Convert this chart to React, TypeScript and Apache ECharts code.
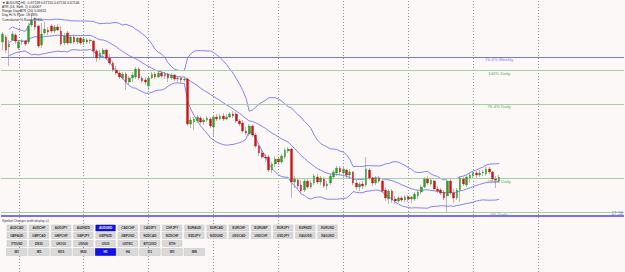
import React, { useEffect, useRef } from "react";
import * as echarts from "echarts";

const symbolName = "AUDUSD";
const periodName = "H1";

const opens = [
  0.67416, 0.67426, 0.67406, 0.6742, 0.6743, 0.67404, 0.67416, 0.67418, 0.67416, 0.6745,
  0.67458, 0.67448, 0.6741, 0.67434, 0.6744, 0.67448, 0.67438, 0.67446, 0.67438, 0.67414,
  0.67434, 0.67414, 0.67426, 0.67416, 0.67424, 0.67416, 0.6742, 0.67418, 0.67418, 0.67398,
  0.67386, 0.67392, 0.674, 0.67384, 0.67374, 0.6736, 0.67354, 0.67344, 0.67352, 0.67336,
  0.67344, 0.67346, 0.67362, 0.67344, 0.6734, 0.67328, 0.67344, 0.67352, 0.67346, 0.67354,
  0.67348, 0.67352, 0.67344, 0.6735, 0.67342, 0.67344, 0.6734, 0.67342, 0.67252, 0.67256,
  0.67258, 0.67264, 0.67256, 0.6726, 0.67262, 0.67246, 0.67266, 0.67262, 0.67268, 0.67262,
  0.67266, 0.67272, 0.67272, 0.67258, 0.67254, 0.67238, 0.67232, 0.67248, 0.6723, 0.67208,
  0.67194, 0.67186, 0.67186, 0.6716, 0.67172, 0.67182, 0.67176, 0.67186, 0.67198, 0.67202,
  0.67136, 0.6714, 0.6713, 0.6712, 0.67138, 0.67126, 0.67134, 0.67146, 0.67136, 0.67142,
  0.67128, 0.67134, 0.67146, 0.67154, 0.67164, 0.67154, 0.6716, 0.6715, 0.67156, 0.67134,
  0.67126, 0.67132, 0.6713, 0.6716, 0.67144, 0.67134, 0.67144, 0.67138, 0.6712, 0.67102,
  0.67118, 0.67102, 0.67098, 0.67104, 0.671, 0.67106, 0.67102, 0.67102, 0.67108, 0.67116,
  0.67126, 0.67142, 0.67132, 0.67138, 0.67122, 0.6712, 0.67116, 0.67108, 0.67138, 0.67114,
  0.67104, 0.6712, 0.67142, 0.6713, 0.67144, 0.67148, 0.67154, 0.6715, 0.67154, 0.67152,
  0.67162, 0.67156, 0.67142, 0.67138,
];
const closes = [
  0.67432, 0.674, 0.67412, 0.67432, 0.67418, 0.67416, 0.67418, 0.67412, 0.67448, 0.6746,
  0.67446, 0.67408, 0.67432, 0.67442, 0.67436, 0.67438, 0.67446, 0.6744, 0.67412, 0.67428,
  0.67414, 0.67426, 0.67416, 0.67424, 0.67414, 0.67422, 0.67416, 0.6742, 0.67398, 0.67384,
  0.67394, 0.674, 0.67384, 0.67374, 0.6736, 0.67354, 0.67346, 0.67352, 0.67336, 0.67344,
  0.6735, 0.67362, 0.67344, 0.67338, 0.67336, 0.67344, 0.67352, 0.67346, 0.67354, 0.67348,
  0.67352, 0.67344, 0.6735, 0.67342, 0.67344, 0.6734, 0.67342, 0.67252, 0.6726, 0.67262,
  0.67266, 0.67256, 0.6726, 0.67264, 0.67248, 0.67266, 0.67262, 0.67268, 0.67262, 0.67266,
  0.67272, 0.67268, 0.67258, 0.67252, 0.67238, 0.67234, 0.67248, 0.6723, 0.67208, 0.67194,
  0.67186, 0.67184, 0.6716, 0.67172, 0.67182, 0.67176, 0.67188, 0.672, 0.67202, 0.67136,
  0.67142, 0.67128, 0.67118, 0.67138, 0.67126, 0.67134, 0.67148, 0.67136, 0.67144, 0.67128,
  0.67132, 0.67148, 0.67156, 0.67164, 0.67156, 0.67162, 0.6715, 0.67156, 0.67134, 0.67126,
  0.67132, 0.67128, 0.67162, 0.67144, 0.67134, 0.67144, 0.67138, 0.67118, 0.67104, 0.67118,
  0.671, 0.67098, 0.67104, 0.671, 0.67106, 0.67102, 0.67106, 0.67112, 0.67116, 0.67126,
  0.67142, 0.67134, 0.6714, 0.67122, 0.67118, 0.67114, 0.67104, 0.67138, 0.67114, 0.67104,
  0.6712, 0.67144, 0.67132, 0.67146, 0.6715, 0.67154, 0.6715, 0.67154, 0.67156, 0.67162,
  0.67156, 0.67142, 0.6714, 0.67146,
];
const lows = [
  0.674, 0.67394, 0.67368, 0.67418, 0.67412, 0.674, 0.6741, 0.67408, 0.67412, 0.67446,
  0.6744, 0.67404, 0.67404, 0.6743, 0.6743, 0.67434, 0.67434, 0.67438, 0.67408, 0.6741,
  0.6741, 0.67412, 0.67412, 0.67412, 0.6741, 0.6741, 0.67412, 0.67412, 0.67384, 0.67376,
  0.6738, 0.67386, 0.6738, 0.6737, 0.67356, 0.6735, 0.67342, 0.6734, 0.6732, 0.6733,
  0.67336, 0.67342, 0.6734, 0.67334, 0.6733, 0.6732, 0.67342, 0.67342, 0.67344, 0.67344,
  0.67342, 0.67336, 0.6734, 0.67338, 0.67336, 0.67334, 0.67336, 0.67248, 0.67244, 0.6724,
  0.67254, 0.67252, 0.6725, 0.67256, 0.67244, 0.67226, 0.67258, 0.6726, 0.67258, 0.6726,
  0.67264, 0.67264, 0.67254, 0.67248, 0.67234, 0.6723, 0.67228, 0.67226, 0.67204, 0.67188,
  0.67182, 0.67176, 0.67156, 0.67154, 0.67166, 0.6717, 0.67172, 0.67182, 0.67194, 0.67104,
  0.67124, 0.67122, 0.67114, 0.67116, 0.67122, 0.67122, 0.6713, 0.67132, 0.6713, 0.67124,
  0.6712, 0.6713, 0.67142, 0.67148, 0.6715, 0.6714, 0.67144, 0.67144, 0.6713, 0.6712,
  0.67118, 0.67122, 0.67126, 0.6714, 0.67128, 0.6713, 0.67134, 0.67114, 0.67098, 0.67092,
  0.67094, 0.67092, 0.67094, 0.67096, 0.67096, 0.67096, 0.67094, 0.67098, 0.67102, 0.67112,
  0.67124, 0.6713, 0.67128, 0.67118, 0.67114, 0.6711, 0.671, 0.67076, 0.6711, 0.67094,
  0.671, 0.67096, 0.67128, 0.67126, 0.67134, 0.67142, 0.67144, 0.67146, 0.67148, 0.67148,
  0.67152, 0.67138, 0.67124, 0.67134,
];
const highs = [
  0.67436, 0.6743, 0.6742, 0.67438, 0.67434, 0.6742, 0.67422, 0.6742, 0.67454, 0.6747,
  0.67466, 0.6745, 0.67454, 0.67456, 0.67446, 0.67452, 0.6745, 0.67452, 0.67448, 0.67434,
  0.67438, 0.6743, 0.67428, 0.67426, 0.67426, 0.67426, 0.67424, 0.67422, 0.6742, 0.67402,
  0.674, 0.67404, 0.67402, 0.67392, 0.67378, 0.67368, 0.6736, 0.67356, 0.67356, 0.67348,
  0.67356, 0.67366, 0.67366, 0.67348, 0.67346, 0.67348, 0.67356, 0.67356, 0.67358, 0.67358,
  0.67356, 0.67354, 0.67354, 0.67352, 0.67346, 0.67346, 0.67346, 0.67344, 0.67266, 0.67266,
  0.6727, 0.67268, 0.67264, 0.67268, 0.67266, 0.6727, 0.67272, 0.67272, 0.67274, 0.67272,
  0.67276, 0.67278, 0.67276, 0.67262, 0.6726, 0.67246, 0.67252, 0.6725, 0.67234, 0.6721,
  0.672, 0.67192, 0.6719, 0.67176, 0.67188, 0.67186, 0.67192, 0.67204, 0.67206, 0.67204,
  0.67148, 0.67144, 0.6714, 0.67142, 0.67142, 0.6714, 0.67152, 0.67152, 0.67148, 0.67146,
  0.67138, 0.67152, 0.6716, 0.67168, 0.67168, 0.67166, 0.67162, 0.67162, 0.67158, 0.6714,
  0.67136, 0.67138, 0.67186, 0.67164, 0.67146, 0.67148, 0.67148, 0.67142, 0.67126, 0.67122,
  0.67122, 0.67108, 0.67108, 0.67108, 0.6711, 0.6711, 0.67108, 0.67116, 0.6712, 0.6713,
  0.67146, 0.67148, 0.67144, 0.6714, 0.67128, 0.67124, 0.6712, 0.67144, 0.67142, 0.67122,
  0.67124, 0.67148, 0.67146, 0.6715, 0.67154, 0.67158, 0.67158, 0.6716, 0.6716, 0.67166,
  0.67166, 0.67158, 0.67148, 0.6715,
];

const emptyBarsRight = 38;
const categories = Array.from({ length: opens.length + emptyBarsRight }, (_, i) => `bar${i}`);
const gridLineBars = [5, 25, 45, 65, 85, 105, 125, 145, 165];

const bandPeriod = 20;
const bandDeviation = 2;

const dailyLow = 0.67076;
const dailyHigh = 0.67359;
const dailyFibPercents = [100, 76.4, 23.6, 0];
const weeklyLevelLabels = ["76.4% Weekly", ""];
const weeklyLevelValues = [0.67386, 0.67069];

const priceMin = 0.66956;
const priceMax = 0.675;

const indicatorLines = [
  "ATR (24, Shift: 2) 0.00067",
  "Range Day ATR (20) 0.00651",
  "Day Hi % Rate: 18.88%",
  "Cumulative % Rate: 78.8%",
];
const changerTitle = "Symbol Changer profit display =1";
const symbolRows = [
  ["AUDCAD", "AUDCHF", "AUDJPY", "AUDNZD", "AUDUSD", "CADCHF", "CADJPY", "CHFJPY", "EURAUD", "EURCAD", "EURCHF", "EURGBP", "EURJPY", "EURNZD", "EURUSD"],
  ["GBPAUD", "GBPCAD", "GBPCHF", "GBPJPY", "GBPNZD", "GBPUSD", "NZDCAD", "NZDCHF", "NZDJPY", "NZDUSD", "USDCAD", "USDCHF", "USDJPY", "XAUUSD", "XAGUSD"],
  ["XTIUSD", "DE30", "UK100", "US500", "US30", "USTEC", "BTCUSD", "ETH"],
];
const timeframes = ["M1", "M5", "M15", "M30", "H1", "H4", "D1", "W1", "MN"];
const timerText = "17:38";

const FONT = "'Liberation Sans', Arial, sans-serif";
const BAND_COLOR = "#8282f3";
const WEEKLY_COLOR = "#7878ee";
const DAILY_LINE = "#9fd49f";
const DAILY_TEXT = "#5aa35a";

function bollinger(values: number[], period: number, dev: number) {
  const upper: (number | null)[] = [];
  const mid: (number | null)[] = [];
  const lower: (number | null)[] = [];
  for (let i = 0; i < values.length; i++) {
    if (i < 2) {
      upper.push(null);
      mid.push(null);
      lower.push(null);
      continue;
    }
    const w = values.slice(Math.max(0, i - period + 1), i + 1);
    const m = w.reduce((a, b) => a + b, 0) / w.length;
    const sd = Math.sqrt(w.reduce((a, b) => a + (b - m) * (b - m), 0) / w.length);
    upper.push(m + dev * sd);
    mid.push(m);
    lower.push(m - dev * sd);
  }
  return { upper, mid, lower };
}

export default function App() {
  const ref = useRef<HTMLDivElement>(null);

  useEffect(() => {
    if (!ref.current) return;
    const chart = echarts.init(ref.current, null, { renderer: "svg" });

    const wickData = opens.map((o, i) => [o, closes[i], lows[i], highs[i]]);
    const bodyData = opens.map((o, i) => [o, closes[i], Math.min(o, closes[i]), Math.max(o, closes[i])]);
    const bb = bollinger(closes, bandPeriod, bandDeviation);
    const fibValues = dailyFibPercents.map((p) => dailyLow + ((dailyHigh - dailyLow) * p) / 100);

    const bandSeries = (data: (number | null)[], name: string, extra: any = {}) => ({
      type: "line",
      name,
      data,
      z: 3,
      silent: true,
      showSymbol: false,
      symbol: "none",
      connectNulls: false,
      lineStyle: { color: BAND_COLOR, width: 1 },
      ...extra,
    });

    const marker = (data: any[], style: any) => ({
      silent: true,
      animation: false,
      precision: 6,
      symbol: ["none", "none"],
      label: { show: false },
      lineStyle: style,
      data,
    });

    chart.setOption({
      animation: false,
      backgroundColor: "#fdf8f8",
      grid: { left: 1, right: 1, top: 0, bottom: 0 },
      xAxis: { type: "category", data: categories, boundaryGap: true, show: false },
      yAxis: { type: "value", min: priceMin, max: priceMax, show: false, scale: true },
      series: [
        bandSeries(bb.lower, "lower", {
          markLine: marker(
            gridLineBars.map((b) => ({ xAxis: categories[b] })),
            { color: "#8f8f8f", width: 1, type: [1, 2], opacity: 1 }
          ),
        }),
        bandSeries(bb.upper, "upper", {
          markLine: marker(
            fibValues.map((v) => ({ yAxis: v })),
            { color: DAILY_LINE, width: 1, type: "solid", opacity: 1 }
          ),
        }),
        bandSeries(bb.mid, "middle", {
          markLine: marker(
            [{ yAxis: weeklyLevelValues[0] }, { yAxis: weeklyLevelValues[1], lineStyle: { width: 2, color: "#7b70e4" } }],
            { color: WEEKLY_COLOR, width: 1, type: "solid", opacity: 1 }
          ),
        }),
        {
          type: "candlestick",
          name: "wicks",
          data: wickData,
          z: 4,
          silent: true,
          barWidth: 1,
          itemStyle: {
            color: "#8a8a8a",
            color0: "#8a8a8a",
            borderColor: "#8a8a8a",
            borderColor0: "#8a8a8a",
            borderWidth: 0.6,
          },
        },
        {
          type: "candlestick",
          name: symbolName,
          data: bodyData,
          z: 5,
          silent: true,
          barWidth: 2.2,
          itemStyle: {
            color: "#2f9e2f",
            color0: "#d01414",
            borderColor: "#2f9e2f",
            borderColor0: "#d01414",
            borderWidth: 0.4,
          },
        },
      ],
    });

    const lastIdx = opens.length - 1;
    const labelX = chart.convertToPixel({ xAxisIndex: 0 }, categories[lastIdx]) as number;
    const yPix = (v: number) => chart.convertToPixel({ yAxisIndex: 0 }, v) as number;

    const graphics: any[] = [];
    const txt = (
      text: string,
      x: number,
      y: number,
      size: number,
      fill: string,
      align = "left",
      valign = "middle",
      weight = "normal",
      z = 10
    ) => ({
      type: "text",
      x,
      y,
      z,
      silent: true,
      style: {
        text,
        fill,
        fontSize: size,
        fontFamily: FONT,
        fontWeight: weight,
        textAlign: align,
        textVerticalAlign: valign,
        align,
        verticalAlign: valign,
      },
    });

    dailyFibPercents.forEach((p, i) => {
      graphics.push(txt(`${p}% Daily`, labelX, yPix(fibValues[i]) + 0.8, 4.4, DAILY_TEXT, "center", "top", "normal", 2));
    });
    weeklyLevelLabels.forEach((l, i) => {
      if (l) graphics.push(txt(l, labelX, yPix(weeklyLevelValues[i]) + 0.8, 4.4, WEEKLY_COLOR, "center", "top", "normal", 2));
    });

    const f = (v: number) => v.toFixed(5);
    const header = `▼ ${symbolName},${periodName}  ${f(opens[lastIdx])} ${f(highs[lastIdx])} ${f(lows[lastIdx])} ${f(closes[lastIdx])}`;
    [header, ...indicatorLines].forEach((line, i) => {
      graphics.push(txt(line, 2, 2.7 + i * 4.2, 3.4, "#1e1e1e"));
    });

    graphics.push(txt(timerText, 623, 213.5, 4.6, "#6f8fbf", "right"));

    graphics.push(txt(changerTitle, 2, 220.6, 3.2, "#3a3a3a"));
    const rowY = [225, 232.5, 240.5];
    symbolRows.forEach((row, r) => {
      row.forEach((s, j) => {
        const x = 7 + j * 22.2;
        const active = s === symbolName;
        graphics.push({
          type: "rect",
          z: 10,
          silent: true,
          shape: { x, y: rowY[r], width: 19.5, height: 6 },
          style: { fill: active ? "#1010f0" : "#d9d9d9", stroke: active ? "#0000a0" : "#c2c2c2", lineWidth: 0.5 },
        });
        graphics.push(txt(s, x + 9.75, rowY[r] + 3.1, 3.1, active ? "#ffffff" : "#303030", "center", "middle", "bold", 11));
      });
    });
    timeframes.forEach((t, j) => {
      const x = 6.5 + j * 22.2;
      const active = t === periodName;
      graphics.push({
        type: "rect",
        z: 10,
        silent: true,
        shape: { x, y: 248.5, width: 20.5, height: 7 },
        style: { fill: active ? "#1010f0" : "#d9d9d9", stroke: active ? "#0000a0" : "#c2c2c2", lineWidth: 0.5 },
      });
      graphics.push(txt(t, x + 10.25, 252.1, 3.3, active ? "#ffffff" : "#303030", "center", "middle", "bold", 11));
    });

    chart.setOption({ graphic: graphics });

    return () => chart.dispose();
  }, []);

  return <div ref={ref} style={{ position: "fixed", left: 0, top: 0, width: 625, height: 272 }} />;
}
